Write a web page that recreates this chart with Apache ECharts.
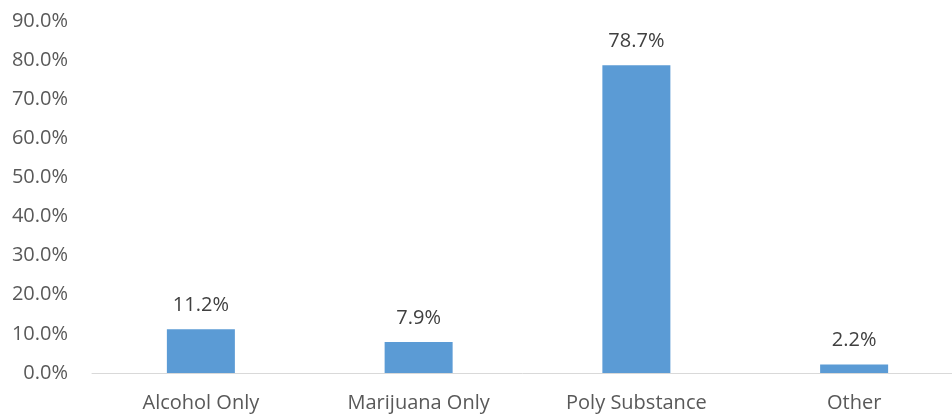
<!DOCTYPE html>
<html>
<head>
<meta charset="utf-8">
<script src="https://cdn.jsdelivr.net/npm/echarts@6/dist/echarts.min.js"></script>
<style>html,body{margin:0;padding:0;background:#fff}#c{width:952px;height:415px}</style>
</head>
<body>
<div id="c"></div>
<script>
const categories = ["Alcohol Only", "Marijuana Only", "Poly Substance", "Other"];
const values = [11.2, 7.9, 78.7, 2.2];
const yMin = 0, yMax = 90, yStep = 10;

const chart = echarts.init(document.getElementById('c'), null, {renderer: 'canvas'});
const font = '"Open Sans", "Noto Sans", sans-serif';
chart.setOption({
  animation: false,
  grid: {left: 92, top: 21, right: -11, bottom: 42, containLabel: false, outerBoundsMode: 'none'},
  xAxis: {
    type: 'category',
    data: categories,
    axisLine: {lineStyle: {color: '#D9D9D9', width: 1}},
    axisTick: {show: false},
    axisLabel: {color: '#595959', fontFamily: font, fontSize: 20, margin: 20}
  },
  yAxis: {
    type: 'value',
    min: yMin, max: yMax, interval: yStep,
    axisLine: {show: false},
    axisTick: {show: false},
    splitLine: {show: false},
    axisLabel: {color: '#595959', fontFamily: font, fontSize: 20, margin: 24,
      formatter: v => v.toFixed(1) + '%'}
  },
  series: [{
    type: 'bar',
    data: values,
    barWidth: 68,
    itemStyle: {color: '#5B9BD5'},
    label: {show: true, position: 'top', distance: 14, color: '#404040',
      fontFamily: font, fontSize: 20, formatter: p => p.value.toFixed(1) + '%'}
  }]
});
</script>
</body>
</html>
